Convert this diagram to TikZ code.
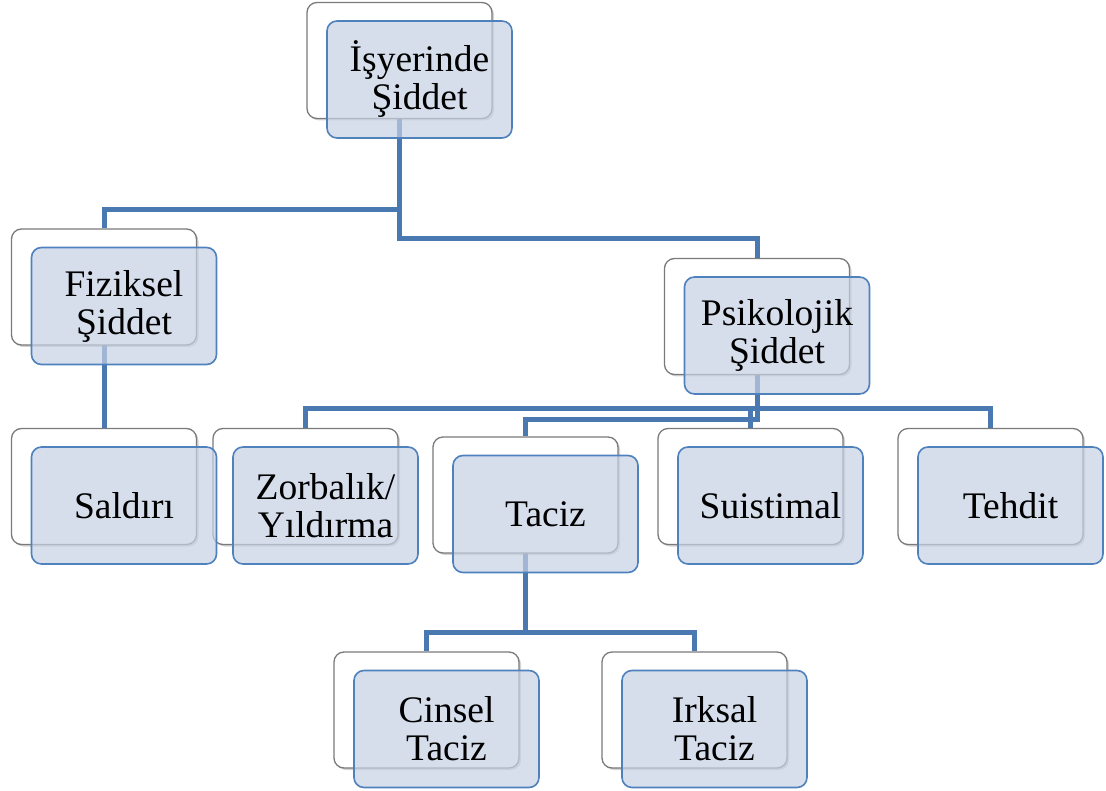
\documentclass[tikz,border=0pt]{standalone}
\usepackage{fontspec}
\setmainfont{Liberation Serif}
\usetikzlibrary{backgrounds,shadows}
\definecolor{lineblue}{HTML}{4A78B0}
\definecolor{boxblue}{HTML}{C6D0E4}
\definecolor{boxborder}{HTML}{4F81BD}
\definecolor{graybd}{HTML}{7A7A7A}
\tikzset{
  back/.style={draw=graybd, line width=1.3pt, fill=white, rounded corners=10pt,
    minimum width=185pt, minimum height=116pt, inner sep=0pt,
    drop shadow={shadow xshift=2pt, shadow yshift=-2pt, opacity=0.35}},
  front/.style={draw=boxborder, line width=1.6pt, fill=boxblue, fill opacity=0.7, text opacity=1,
    rounded corners=10pt, minimum width=185pt, minimum height=117pt, inner sep=0pt,
    align=center, font=\fontsize{37.5}{38}\selectfont},
  conn/.style={draw=lineblue, line width=5pt}
}
\begin{document}
\begin{tikzpicture}[x=1pt,y=-1pt]
\useasboundingbox (0,0) rectangle (1106,791);
% back boxes
\node[back] (topw) at (399.5,60.5) {};
\node[back] (fizw) at (104,287) {};
\node[back] (psiw) at (757,316.5) {};
\node[back] (salw) at (104,486.5) {};
\node[back] (zorw) at (305.5,486.5) {};
\node[back] (tacw) at (525.5,495) {};
\node[back] (suiw) at (750.5,486.5) {};
\node[back] (tehw) at (990.5,486.5) {};
\node[back] (cinw) at (426.5,710) {};
\node[back] (irkw) at (694.5,710) {};
% front boxes
\node[front] (top) at (419.5,79.5) {İşyerinde\\Şiddet};
\node[front] (fiz) at (124,306) {Fiziksel\\Şiddet};
\node[front] (psi) at (777,335.5) {Psikolojik\\Şiddet};
\node[front] (sal) at (124,505.5) {Saldırı};
\node[front] (zor) at (325.5,505.5) {Zorbalık/\\Yıldırma};
\node[front] (tac) at (545.5,514) {Taciz};
\node[front] (sui) at (770.5,505.5) {Suistimal};
\node[front] (teh) at (1010.5,505.5) {Tehdit};
\node[front] (cin) at (446.5,729) {Cinsel\\Taciz};
\node[front] (irk) at (714.5,729) {Irksal\\Taciz};
% connectors
\begin{pgfonlayer}{background}
\draw[conn] (topw.center) |- ([yshift=19pt]fizw.north) -- (fizw.north);
\draw[conn] (topw.center) |- ([yshift=19pt]psiw.north) -- (psiw.north);
\draw[conn] (fizw.center) -- (salw.north);
\draw[conn] (psiw.center) |- ([yshift=19pt]zorw.north) -- (zorw.north);
\draw[conn] (psiw.center) |- ([yshift=19pt]suiw.north) -- (suiw.north);
\draw[conn] (psiw.center) |- ([yshift=19pt]tehw.north) -- (tehw.north);
\draw[conn] (psiw.center) |- ([yshift=17pt]tacw.north) -- (tacw.north);
\draw[conn] (tacw.center) |- ([yshift=19pt]cinw.north) -- (cinw.north);
\draw[conn] (tacw.center) |- ([yshift=19pt]irkw.north) -- (irkw.north);
\end{pgfonlayer}
\end{tikzpicture}
\end{document}
